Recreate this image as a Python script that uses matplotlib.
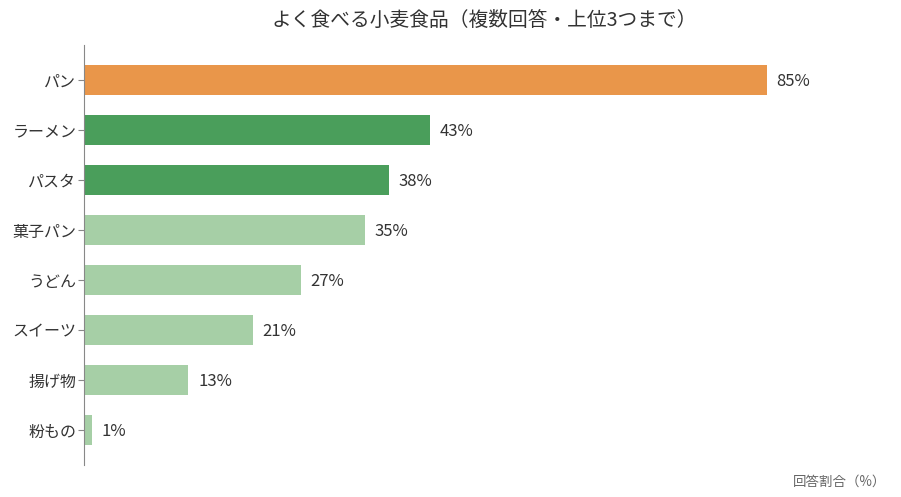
import matplotlib
matplotlib.use('Agg')
from matplotlib import pyplot as plt

# data
foods = ['パン', 'ラーメン', 'パスタ', '菓子パン', 'うどん', 'スイーツ', '揚げ物', '粉もの']
shares = [85, 43, 38, 35, 27, 21, 13, 1]
groups = ['top', 'high', 'high', 'rest', 'rest', 'rest', 'rest', 'rest']

colors = {'top': '#E9964A', 'high': '#4A9E5B', 'rest': '#A6CFA6'}

plt.rcParams['font.family'] = ['Noto Sans CJK JP', 'DejaVu Sans']

fig = plt.figure(figsize=(9.01, 4.97), dpi=100)
ax = fig.add_axes([84 / 901, 32 / 497, 0.9, 420 / 497])

y = range(len(foods))
ax.barh(y, shares, height=0.6, color=[colors[g] for g in groups])

for i, v in enumerate(shares):
    ax.text(v + 1.2, i + 0.02, f'{v}%', va='center', ha='left', fontsize=12, color='#333333')

ax.set_xlim(0, 0.9 * 901 / 8.035)
ax.set_ylim(len(foods) - 0.3, -0.7)
ax.set_yticks(list(y))
ax.set_yticklabels(foods, fontsize=11.5, color='#333333')
ax.tick_params(axis='y', length=4, color='#888888', pad=1.5)
ax.set_xticks([])

for s in ['top', 'right', 'bottom']:
    ax.spines[s].set_visible(False)
ax.spines['left'].set_color('#888888')
ax.spines['left'].set_linewidth(0.8)

fig.text(484 / 901, 1 - 20 / 497, 'よく食べる小麦食品（複数回答・上位3つまで）',
         ha='center', va='center', fontsize=14.2, color='#333333')
fig.text(886 / 901, 1 - 482 / 497, '回答割合（%）', ha='right', va='center',
         fontsize=9.7, color='#666666')

fig.savefig('out.png', dpi=100)
